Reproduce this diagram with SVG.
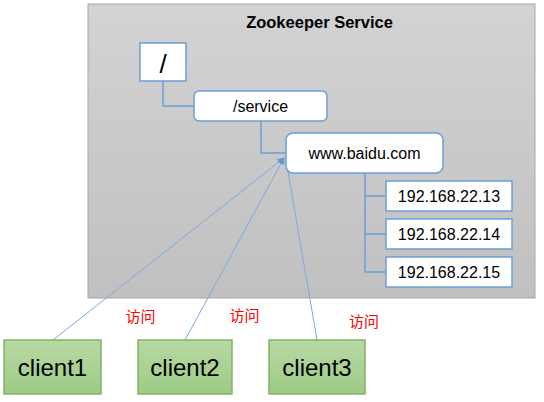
<svg xmlns="http://www.w3.org/2000/svg" width="544" height="402" viewBox="0 0 544 402">
<defs>
<linearGradient id="bg" x1="0" y1="0" x2="0" y2="1">
<stop offset="0" stop-color="#d3d3d3"/>
<stop offset="1" stop-color="#c0c0c0"/>
</linearGradient>
<linearGradient id="gr" x1="0" y1="0" x2="0" y2="1">
<stop offset="0" stop-color="#b8d9a5"/>
<stop offset="1" stop-color="#9ccb84"/>
</linearGradient>
<marker id="ah" viewBox="0 0 10 10" refX="9" refY="5" markerWidth="7" markerHeight="7" orient="auto" markerUnits="userSpaceOnUse">
<path d="M0,0 L10,5 L0,10 z" fill="#5b9bd5"/>
</marker>
</defs>
<style>
text{font-family:"Liberation Sans",Arial,sans-serif;fill:#000;text-anchor:middle}
.n{fill:#fff;stroke:#6a9fd8;stroke-width:1.5}
.c{fill:url(#gr);stroke:#82b366;stroke-width:1.5}
.t{stroke:#6a9fd8;stroke-width:1.5;fill:none}
.a{stroke:#7aaae0;stroke-width:1;fill:none}
.f16{font-size:16px}
.cl{font-size:24px}
.v{font-family:"Noto Sans CJK SC",sans-serif;font-size:15px;fill:#ff0000}
</style>
<g id="service">
<rect x="88" y="4" width="447" height="294" fill="url(#bg)" stroke="#a8a8a8" stroke-width="1"/>
<text x="319.5" y="28" font-size="16.5" font-weight="bold">Zookeeper Service</text>
</g>
<g id="connectors">
<path class="t" d="M163,81 V106 H194"/>
<path class="t" d="M261,121 V153 H286"/>
<path class="t" d="M365,173 V272 H386 M365,196 H386 M365,234 H386"/>
<line class="a" x1="53" y1="340" x2="284" y2="158" marker-end="url(#ah)"/>
<line class="a" x1="185" y1="340" x2="284" y2="158" marker-end="url(#ah)"/>
<line class="a" x1="317" y1="340" x2="286" y2="160"/>
</g>
<g id="root"><rect class="n" x="140" y="43" width="46" height="38"/><text x="163" y="73" font-size="26">/</text></g>
<g id="svc"><rect class="n" x="194" y="91" width="133" height="30" rx="5"/><text class="f16" x="260.5" y="112">/service</text></g>
<g id="baidu"><rect class="n" x="286" y="133" width="157" height="40" rx="7"/><text class="f16" x="364.5" y="159">www.baidu.com</text></g>
<g id="ip13"><rect class="n" x="386" y="181" width="126" height="30"/><text class="f16" x="449" y="202">192.168.22.13</text></g>
<g id="ip14"><rect class="n" x="386" y="219" width="126" height="30"/><text class="f16" x="449" y="240">192.168.22.14</text></g>
<g id="ip15"><rect class="n" x="386" y="257" width="126" height="30"/><text class="f16" x="449" y="278">192.168.22.15</text></g>
<g id="client1"><rect class="c" x="4" y="340" width="97" height="54"/><text class="cl" x="52.5" y="376">client1</text></g>
<g id="client2"><rect class="c" x="138" y="340" width="94" height="54"/><text class="cl" x="185" y="376">client2</text></g>
<g id="client3"><rect class="c" x="269" y="340" width="96" height="54"/><text class="cl" x="317" y="376">client3</text></g>
<g id="labels">
<text class="v" x="140.5" y="322">访问</text>
<text class="v" x="244.5" y="321">访问</text>
<text class="v" x="364" y="327">访问</text>
</g>
</svg>
